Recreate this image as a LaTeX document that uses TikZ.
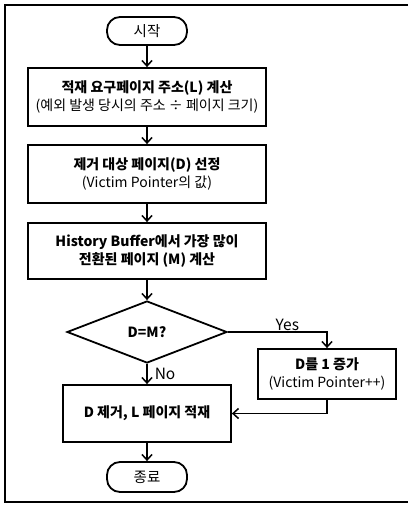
\documentclass[tikz,border=0pt]{standalone}
\usepackage{fontspec}
\setmainfont{Noto Sans CJK KR}
\usepackage{tikz}
\usetikzlibrary{arrows.meta, positioning, shapes.geometric}
\newcommand{\sub}[1]{{\fontsize{14}{18}\selectfont #1}}

\begin{document}
\begin{tikzpicture}[x=1pt, y=-1pt, >={Straight Barb[length=5.5pt, width=10pt]},
  font=\fontsize{14}{18.5}\selectfont,
  box/.style={draw, line width=1.8pt, align=center, inner sep=0pt},
  term/.style={box, rounded corners=13pt, minimum width=80pt, font=\fontsize{14.5}{16}\selectfont},
  link/.style={->, line width=1.5pt},
  lbl/.style={font=\fontsize{15.5}{17}\selectfont, inner sep=1pt}]
\useasboundingbox (0,0) rectangle (408,505);
\draw[line width=2.2pt] (408,5) -- (5,5) -- (5,502) -- (408,502);
% ---- main column
\node[term, minimum height=28pt] (start) at (147,31) {시작};
\node[box, minimum width=238pt, minimum height=58pt] (calcL) at (147,97)
  {\textbf{적재 요구페이지 주소(L) 계산}\\\sub{(예외 발생 당시의 주소 ÷ 페이지 크기)}};
\node[box, minimum width=238pt, minimum height=58pt] (pickD) at (147,174)
  {\textbf{제거 대상 페이지(D) 선정}\\\sub{(Victim Pointer의 값)}};
\node[box, minimum width=238pt, minimum height=56pt] (calcM) at (147,251)
  {\textbf{History Buffer에서 가장 많이}\\\textbf{전환된 페이지 (M) 계산}};
\node[diamond, draw, line width=1.8pt, minimum width=160pt, minimum height=62pt,
  inner sep=0pt] (test) at (147,332) {\textbf{D=M?}};
\node[box, minimum width=138pt, minimum height=50pt] (incD) at (327,374)
  {\textbf{D를 1 증가}\\\sub{(Victim Pointer++)}};
\node[box, minimum width=168pt, minimum height=57pt] (load) at (147,413.5)
  {\textbf{D 제거, L 페이지 적재}};
\node[term, minimum height=30pt] (stop) at (147,477) {종료};
% ---- connectors
\draw[link] (start) -- (calcL);
\draw[link] (calcL) -- (pickD);
\draw[link] (pickD) -- (calcM);
\draw[link] (calcM) -- (test);
\draw[link] (test) -- node[lbl, right=6pt, pos=0.5] {No} (load);
\draw[link] (test.east) -| node[lbl, above, pos=0.3] {Yes} (incD.north);
\draw[link] (incD.south) |- (load.east);
\draw[link] (load) -- (stop);
\end{tikzpicture}
\end{document}
